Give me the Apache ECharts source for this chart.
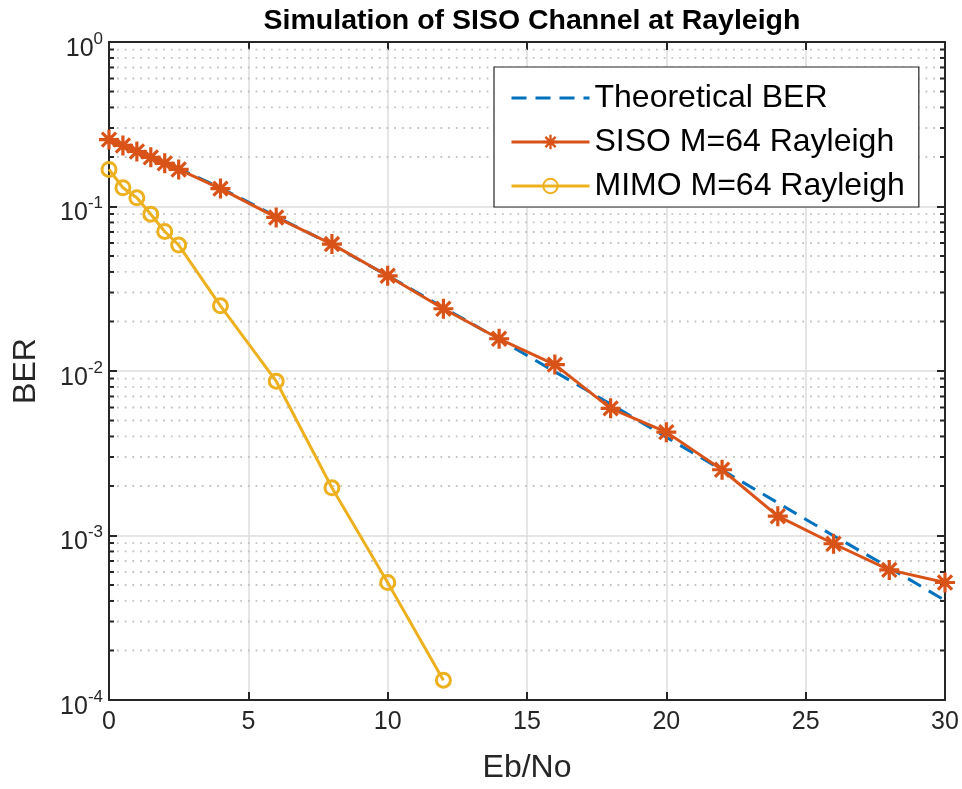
<!DOCTYPE html>
<html><head><meta charset="utf-8">
<script src="https://cdn.jsdelivr.net/npm/echarts@6/dist/echarts.min.js"></script>
<style>html,body{margin:0;padding:0;background:#fff}#c{width:962px;height:789px}</style>
</head><body><div id="c"></div>
<script>
// ---- data ----
const ebno = [0, 0.5, 1, 1.5, 2, 2.5, 4, 6, 8, 10, 12, 14, 16, 18, 20, 22, 24, 26, 28, 30];
const theoryBER = [0.25, 0.232, 0.215, 0.199, 0.184, 0.17, 0.13, 0.087, 0.0585, 0.038, 0.0243, 0.0156, 0.0099, 0.0063, 0.00396, 0.0025, 0.00158, 0.000997, 0.000638, 0.000403];
const sisoBER = [0.255, 0.235, 0.216, 0.199, 0.183, 0.168, 0.1285, 0.0858, 0.0591, 0.0379, 0.0239, 0.0157, 0.01094, 0.00593, 0.00425, 0.00251, 0.00131, 0.000891, 0.000618, 0.000518];
const mimoEbNo = [0, 0.5, 1, 1.5, 2, 2.5, 4, 6, 8, 10, 12];
const mimoBER = [0.168, 0.130, 0.113, 0.0898, 0.0705, 0.0583, 0.0249, 0.00867, 0.00195, 0.000518, 0.000132];
const minorGridVals = [];
[1e-4, 1e-3, 1e-2, 1e-1].forEach(d => { for (let k = 2; k <= 9; k++) minorGridVals.push(+(k * d).toPrecision(3)); });
const seriesNames = ['Theoretical BER', 'SISO M=64 Rayleigh', 'MIMO M=64 Rayleigh'];
const titleText = 'Simulation of SISO Channel at Rayleigh';
const xName = 'Eb/No', yName = 'BER';

// ---- styling ----
const FONT = 'Liberation Sans, Arial, sans-serif';
const AX = '#262626';
const asterisk = 'path://M-1.6,-10L1.6,-10L1.6,10L-1.6,10Z M-10,-1.6L10,-1.6L10,1.6L-10,1.6Z M-5.94,-8.2L8.2,5.94L5.94,8.2L-8.2,-5.94Z M8.2,-5.94L-5.94,8.2L-8.2,5.94L5.94,-8.2Z';

const chart = echarts.init(document.getElementById('c'), null, {renderer: 'canvas'});
const xMin = 0, xMax = 30;

const option = {
  backgroundColor: '#fff',
  animation: false,
  title: {
    text: titleText, left: 527, top: 2, textAlign: 'center',
    textStyle: {fontFamily: FONT, fontWeight: 'bold', fontSize: 28.5, color: '#000'}
  },
  grid: {left: 109, right: 17, top: 42, bottom: 86, containLabel: false},
  legend: {
    data: [
      {name: seriesNames[0], itemStyle: {opacity: 0}},
      {name: seriesNames[1]},
      {name: seriesNames[2]}
    ],
    orient: 'vertical', left: 494, top: 67,
    itemWidth: 78, itemHeight: 18, itemGap: 8,
    padding: [13, 14, 3, 16],
    lineStyle: {width: 3},
    backgroundColor: '#fff', borderColor: AX, borderWidth: 1.2, borderRadius: 0,
    textStyle: {fontFamily: FONT, fontSize: 32, color: '#000', lineHeight: 36}
  },
  xAxis: [{
    type: 'value', min: xMin, max: xMax, interval: 5, position: 'bottom',
    name: xName, nameLocation: 'middle', nameGap: 52,
    nameTextStyle: {fontFamily: FONT, fontSize: 32, color: AX},
    axisLine: {onZero: false, lineStyle: {color: AX, width: 2}},
    axisTick: {inside: true, length: 8, lineStyle: {color: AX, width: 2}},
    axisLabel: {fontFamily: FONT, fontSize: 25, color: AX, margin: 10},
    splitLine: {show: true, lineStyle: {color: '#dcdcdc', width: 1.5}}
  }, {
    type: 'value', min: xMin, max: xMax, interval: 5, position: 'top',
    axisLine: {onZero: false, lineStyle: {color: AX, width: 2}},
    axisTick: {inside: true, length: 8, lineStyle: {color: AX, width: 2}},
    axisLabel: {show: false}, splitLine: {show: false}
  }],
  yAxis: [{
    type: 'log', logBase: 10, min: 1e-4, max: 1, position: 'left',
    name: yName, nameLocation: 'middle', nameGap: 67, nameRotate: 90,
    nameTextStyle: {fontFamily: FONT, fontSize: 32, color: AX},
    axisLine: {onZero: false, lineStyle: {color: AX, width: 2}},
    axisTick: {inside: true, length: 8, lineStyle: {color: AX, width: 2}},
    axisLabel: {
      margin: 6,
      formatter: v => '{b|10}{s|' + Math.round(Math.log10(v)) + '}',
      rich: {
        b: {fontFamily: FONT, fontSize: 25, color: AX, padding: [14, 0, 0, 0]},
        s: {fontFamily: FONT, fontSize: 17, color: AX, padding: [0, 0, 6, 0]}
      }
    },
    splitLine: {show: true, lineStyle: {color: '#dcdcdc', width: 1.5}}
  }, {
    type: 'log', logBase: 10, min: 1e-4, max: 1, position: 'right',
    axisLine: {onZero: false, lineStyle: {color: AX, width: 2}},
    axisTick: {inside: true, length: 8, lineStyle: {color: AX, width: 2}},
    axisLabel: {show: false}, splitLine: {show: false}
  }],
  series: [
    {
      type: 'custom', silent: true, z: 1, clip: false,
      data: minorGridVals.map(v => [xMin, v]),
      encode: {x: 0, y: 1},
      renderItem: (params, api) => {
        const v = api.value(1);
        const p0 = api.coord([xMin, v]);
        const p1 = api.coord([xMax, v]);
        return {type: 'group', children: [
          {type: 'line', shape: {x1: p0[0] + 8, y1: p0[1], x2: p1[0] - 4, y2: p1[1]},
           style: {stroke: '#c4c4c4', lineWidth: 1.8, lineDash: [1.8, 5.9]}},
          {type: 'line', shape: {x1: p0[0], y1: p0[1], x2: p0[0] + 5, y2: p0[1]},
           style: {stroke: AX, lineWidth: 2}},
          {type: 'line', shape: {x1: p1[0] - 5, y1: p1[1], x2: p1[0], y2: p1[1]},
           style: {stroke: AX, lineWidth: 2}}
        ]};
      }
    },
    {
      name: seriesNames[0], type: 'line', z: 3, clip: false,
      data: ebno.map((x, i) => [x, theoryBER[i]]),
      symbol: 'none', color: '#0072BD',
      lineStyle: {color: '#0072BD', width: 3, type: [15, 9]}
    },
    {
      name: seriesNames[1], type: 'line', z: 4, clip: false,
      data: ebno.map((x, i) => [x, sisoBER[i]]),
      symbol: asterisk, symbolSize: 20, color: '#D95319',
      itemStyle: {color: '#D95319'},
      lineStyle: {color: '#D95319', width: 3}
    },
    {
      name: seriesNames[2], type: 'line', z: 5, clip: false,
      data: mimoEbNo.map((x, i) => [x, mimoBER[i]]),
      symbol: 'circle', symbolSize: 14, color: '#EDB120',
      itemStyle: {color: 'rgba(0,0,0,0)', borderColor: '#EDB120', borderWidth: 3},
      lineStyle: {color: '#EDB120', width: 3}
    }
  ]
};
chart.setOption(option);
</script></body></html>
